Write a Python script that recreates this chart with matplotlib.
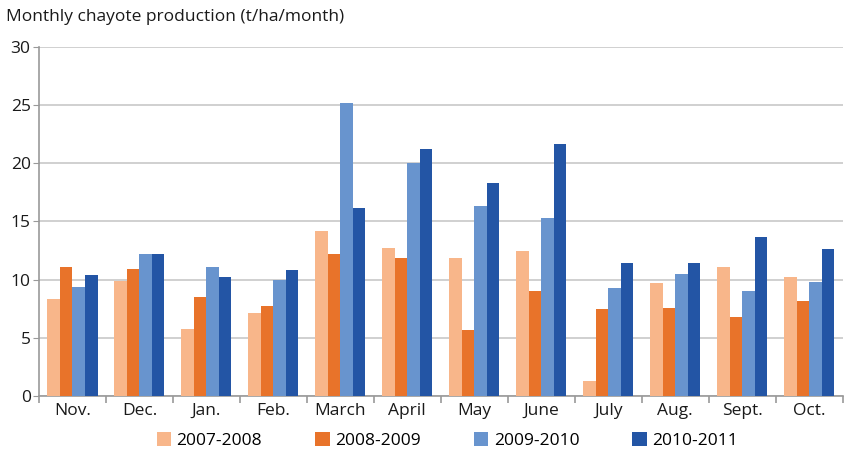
import matplotlib
matplotlib.use("Agg")
import matplotlib.pyplot as plt
import numpy as np

months = ["Nov.", "Dec.", "Jan.", "Feb.", "March", "April", "May", "June",
          "July", "Aug.", "Sept.", "Oct."]
s2007 = [8.3, 9.9, 5.8, 7.1, 14.2, 12.7, 11.9, 12.5, 1.3, 9.7, 11.1, 10.2]
s2008 = [11.1, 10.9, 8.5, 7.7, 12.2, 11.9, 5.7, 9.0, 7.5, 7.6, 6.8, 8.2]
s2009 = [9.4, 12.2, 11.1, 10.0, 25.2, 20.0, 16.3, 15.3, 9.3, 10.5, 9.0, 9.8]
s2010 = [10.4, 12.2, 10.2, 10.8, 16.2, 21.2, 18.3, 21.7, 11.4, 11.4, 13.7, 12.6]
series_labels = ["2007-2008", "2008-2009", "2009-2010", "2010-2011"]
colors = ["#F8B68A", "#E8732A", "#6894CE", "#2355A5"]
yticks = [0, 5, 10, 15, 20, 25, 30]

plt.rcParams['font.family'] = ['Open Sans', 'DejaVu Sans']

fig = plt.figure(figsize=(8.55, 4.54), dpi=100)
ax = fig.add_axes([0.0456, 0.1278, 0.940, 0.7687])

x = np.arange(len(months))
w = 0.187
data = [s2007, s2008, s2009, s2010]
for i, (vals, lab, c) in enumerate(zip(data, series_labels, colors)):
    ax.bar(x + (i - 1.5) * w, vals, width=w, color=c, label=lab, zorder=3)

ax.set_xlim(-0.5, len(months) - 0.5)
ax.set_ylim(0, 30)
ax.set_yticks(yticks)
ax.yaxis.grid(True, color="#c8c8c8", linewidth=1.2, zorder=0)
ax.set_xticks(x)
ax.set_xticklabels(months)
ax.set_xticks(np.arange(-0.5, len(months), 1.0), minor=True)
ax.tick_params(axis='x', which='major', length=0, labelsize=12.5, pad=5, colors='#1a1a1a')
ax.tick_params(axis='x', which='minor', length=5, color='#999999', width=1.2)
ax.tick_params(axis='y', length=4, color='#999999', labelsize=12.5, pad=2, labelcolor='#1a1a1a')
for s in ["top", "right"]:
    ax.spines[s].set_visible(False)
for s in ["left", "bottom"]:
    ax.spines[s].set_color("#999999")
    ax.spines[s].set_linewidth(1.2)

fig.text(0.007, 0.962, "Monthly chayote production (t/ha/month)", fontsize=12.5,
         ha="left", va="center", color="#1a1a1a")

leg = ax.legend(loc="center", bbox_to_anchor=(0.508, -0.128), ncol=4, frameon=False,
                fontsize=12.5, handlelength=0.85, handleheight=0.85, handletextpad=0.3,
                columnspacing=3.05)

fig.savefig("out.png", dpi=100)
